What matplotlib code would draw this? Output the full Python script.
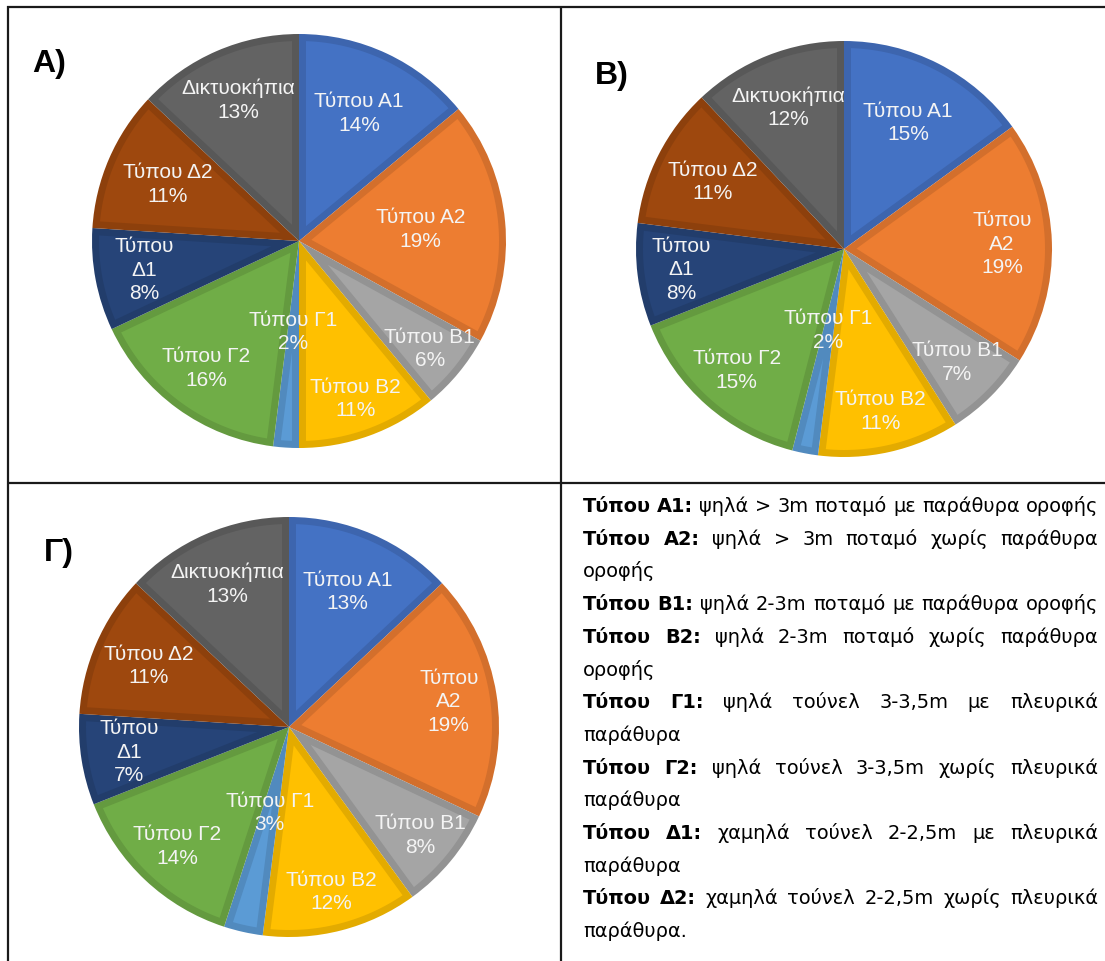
import matplotlib
matplotlib.use('Agg')
import matplotlib.pyplot as plt
import numpy as np
from matplotlib.colors import to_rgb
from matplotlib.lines import Line2D
from matplotlib.patches import Polygon

W, H = 1105, 961

# ---------------- data ----------------
categories = ['Τύπου Α1', 'Τύπου Α2', 'Τύπου Β1', 'Τύπου Β2', 'Τύπου Γ1',
              'Τύπου Γ2', 'Τύπου Δ1', 'Τύπου Δ2', 'Δικτυοκήπια']
values_A = [14, 19, 6, 11, 2, 16, 8, 11, 13]
values_B = [15, 19, 7, 11, 2, 15, 8, 11, 12]
values_C = [13, 19, 8, 12, 3, 14, 7, 11, 13]
panel_titles = ['A)', 'B)', 'Γ)']

legend_keys = ['Τύπου Α1:', 'Τύπου Α2:', 'Τύπου Β1:', 'Τύπου Β2:',
               'Τύπου Γ1:', 'Τύπου Γ2:', 'Τύπου Δ1:', 'Τύπου Δ2:']
legend_texts = ['ψηλά > 3m ποταμό με παράθυρα οροφής',
                'ψηλά > 3m ποταμό χωρίς παράθυρα\nοροφής',
                'ψηλά 2-3m ποταμό με παράθυρα οροφής',
                'ψηλά 2-3m ποταμό χωρίς παράθυρα\nοροφής',
                'ψηλά τούνελ 3-3,5m με πλευρικά\nπαράθυρα',
                'ψηλά τούνελ 3-3,5m χωρίς πλευρικά\nπαράθυρα',
                'χαμηλά τούνελ 2-2,5m με πλευρικά\nπαράθυρα',
                'χαμηλά τούνελ 2-2,5m χωρίς πλευρικά\nπαράθυρα.']

# ---------------- style ----------------
colors = ['#4472C4', '#ED7D31', '#A5A5A5', '#FFC000', '#5B9BD5',
          '#70AD47', '#264478', '#9E480E', '#636363']
pie_font = 'Liberation Sans'
label_color = '#F4F4F4'
band_px = 7.0
band_shade = 0.89

# layout: (center x, center y, radius) in pixels, label radial fractions, wrapped labels
pies = [
    dict(vals=values_A, c=(299, 241), r=207,
         dist=[0.68, 0.59, 0.82, 0.81, 0.44, 0.76, 0.76, 0.69, 0.74], wrap={6},
         title_xy=(49, 64)),
    dict(vals=values_B, c=(844, 249), r=208,
         dist=[0.68, 0.76, 0.77, 0.80, 0.40, 0.78, 0.79, 0.71, 0.73], wrap={1, 6},
         title_xy=(612, 76)),
    dict(vals=values_C, c=(289, 727), r=210,
         dist=[0.70, 0.77, 0.81, 0.81, 0.42, 0.78, 0.77, 0.73, 0.74], wrap={1, 6},
         title_xy=(59, 553)),
]

fig = plt.figure(figsize=(W / 100, H / 100), dpi=100)
fig.patch.set_facecolor('white')


def fx(x):
    return x / W


def fy(y):
    return 1 - y / H


def inset_polygon(theta1, theta2, d):
    """Region of a unit-radius wedge at distance >= d from its edges."""
    a1, a2 = np.deg2rad(theta1), np.deg2rad(theta2)
    half = (a2 - a1) / 2
    rho = 1 - d
    apex = d / np.sin(half) if half < np.pi / 2 else 0.0
    if apex >= rho:
        return None
    delta = np.arcsin(d / rho)
    if a2 - delta <= a1 + delta:
        return None
    t = np.linspace(a1 + delta, a2 - delta, 80)
    mid = (a1 + a2) / 2
    pts = [(apex * np.cos(mid), apex * np.sin(mid))]
    pts += list(zip(rho * np.cos(t), rho * np.sin(t)))
    return np.array(pts)


for p, title in zip(pies, panel_titles):
    cx, cy = p['c']
    R = p['r']
    ax = fig.add_axes([fx(cx - R), fy(cy + R), 2 * R / W, 2 * R / H])
    band_cols = [tuple(np.array(to_rgb(c)) * band_shade) for c in colors]
    wedges, _ = ax.pie(p['vals'], colors=band_cols, startangle=90, counterclock=False,
                       radius=1.0, wedgeprops=dict(linewidth=0))
    total = sum(p['vals'])
    d = band_px / R
    for i, w in enumerate(wedges):
        poly = inset_polygon(w.theta1, w.theta2, d)
        if poly is not None:
            ax.add_patch(Polygon(poly, closed=True, facecolor=colors[i],
                                 edgecolor='none', zorder=w.get_zorder() + 0.1))
    for i, w in enumerate(wedges):
        mid = np.deg2rad((w.theta1 + w.theta2) / 2)
        dd = p['dist'][i]
        name = categories[i]
        if i in p['wrap']:
            name = name.replace(' ', '\n')
        pct = round(100 * p['vals'][i] / total)
        ax.text(dd * np.cos(mid), dd * np.sin(mid), f'{name}\n{pct}%',
                ha='center', va='center', fontsize=15, color=label_color,
                family=pie_font, linespacing=1.3, zorder=5)
    ax.set_xlim(-1, 1)
    ax.set_ylim(-1, 1)
    ax.set_aspect('equal')
    ax.axis('off')
    tx, ty = p['title_xy']
    fig.text(fx(tx), fy(ty), title, ha='center', va='center', fontsize=23,
             fontweight='bold', family=pie_font, color='black')

# ---------------- grid lines ----------------
line_kw = dict(color='#1a1a1a', linewidth=1.6, solid_capstyle='butt')
fig.add_artist(Line2D([fx(7), fx(W)], [fy(7), fy(7)], transform=fig.transFigure, **line_kw))
fig.add_artist(Line2D([fx(8), fx(8)], [fy(6), fy(H)], transform=fig.transFigure, **line_kw))
fig.add_artist(Line2D([fx(561), fx(561)], [fy(6), fy(H)], transform=fig.transFigure, **line_kw))
fig.add_artist(Line2D([fx(7), fx(W)], [fy(483), fy(483)], transform=fig.transFigure, **line_kw))

# ---------------- justified legend text ----------------
renderer = fig.canvas.get_renderer()
leg_font = 'DejaVu Sans'
x_left, x_right = 583, 1098
box_w = x_right - x_left


def text_w(s, fs, bold):
    t = fig.text(0, 0, s, fontsize=fs, fontweight='bold' if bold else 'normal',
                 family=leg_font)
    w = t.get_window_extent(renderer).width
    t.remove()
    return w


# build lines: list of (words[(word,bold)], justify)
lines = []
for key, txt in zip(legend_keys, legend_texts):
    parts = txt.split('\n')
    for j, part in enumerate(parts):
        words = []
        if j == 0:
            words += [(wd, True) for wd in key.split(' ')]
        words += [(wd, False) for wd in part.split(' ')]
        lines.append((words, len(words) > 1))

# fit font size so the first (single-line) entry fills the box with normal spacing
fs0 = 10.0
sp0 = text_w('a a', fs0, False) - text_w('aa', fs0, False)
w0, _ = lines[0]
nat0 = sum(text_w(wd, fs0, b) for wd, b in w0) + sp0 * (len(w0) - 1)
leg_fs = fs0 * box_w / nat0
sp = sp0 * leg_fs / fs0

base0, pitch = 512, 32.7
for k, (words, just) in enumerate(lines):
    yb = base0 + k * pitch
    widths = [text_w(wd, leg_fs, b) for wd, b in words]
    if just:
        gap = max((box_w - sum(widths)) / (len(words) - 1), 0.5 * sp)
    else:
        gap = 0
    x = x_left
    for (wd, b), wv in zip(words, widths):
        fig.text(fx(x), fy(yb), wd, fontsize=leg_fs,
                 fontweight='bold' if b else 'normal', family=leg_font,
                 ha='left', va='baseline', color='black')
        x += wv + gap

fig.savefig('out.png', dpi=100, facecolor='white')
